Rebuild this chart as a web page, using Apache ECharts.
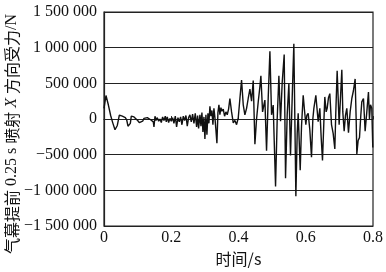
<!DOCTYPE html>
<html><head><meta charset="utf-8">
<script src="https://cdn.jsdelivr.net/npm/echarts@6/dist/echarts.min.js"></script>
<style>html,body{margin:0;padding:0;background:#fff}#c{width:386px;height:272px}</style>
</head><body><div id="c"></div>
<script>
var times = [0,0.0059,0.0129,0.0198,0.0258,0.0327,0.0357,0.0396,0.0456,0.0495,0.0545,0.0594,0.0634,0.0674,0.0713,0.0753,0.0783,0.0812,0.0852,0.0892,0.0951,0.1001,0.1050,0.1100,0.1149,0.1189,0.1238,0.1288,0.1337,0.1387,0.1436,0.1466,0.1486,0.1516,0.1545,0.1585,0.1625,0.1664,0.1704,0.1743,0.1783,0.1823,0.1852,0.1882,0.1922,0.1961,0.2001,0.2041,0.2080,0.2120,0.2159,0.2199,0.2239,0.2278,0.2318,0.2358,0.2397,0.2437,0.2476,0.2516,0.2556,0.2595,0.2635,0.2675,0.2714,0.2754,0.2784,0.2813,0.2853,0.2883,0.2912,0.2942,0.2972,0.3001,0.3031,0.3061,0.3091,0.3120,0.3150,0.3180,0.3210,0.3239,0.3269,0.3299,0.3328,0.3358,0.3388,0.3418,0.3447,0.3477,0.3507,0.3546,0.3586,0.3626,0.3665,0.3705,
0.3744,0.3794,0.3844,0.3893,0.3943,0.3992,0.4042,0.4091,0.4141,0.4190,0.4240,0.4289,0.4339,0.4389,0.4438,0.4488,0.4537,0.4587,0.4636,0.4666,0.4716,0.4755,0.4785,0.4834,0.4884,0.4934,0.4983,0.5032,0.5062,0.5102,0.5151,0.5201,0.5250,0.5300,0.5359,0.5399,0.5448,0.5498,0.5547,0.5597,0.5646,0.5676,0.5706,0.5746,0.5775,0.5805,0.5835,0.5874,0.5924,0.5963,0.6003,0.6032,0.6072,0.6121,0.6171,0.6211,0.6241,0.6300,0.6340,0.6369,0.6419,0.6458,0.6498,0.6538,0.6567,0.6607,0.6637,0.6676,0.6716,0.6766,0.6815,0.6865,0.6894,0.6934,0.6964,0.6993,0.7033,0.7073,0.7102,0.7142,0.7182,0.7221,0.7271,0.7320,0.7370,0.7419,0.7469,0.7499,0.7519,0.7558,0.7598,0.7637,0.7667,0.7717,0.7766,0.7816,0.7865,0.7895,0.7925,0.7964,0.7994];
var forces = [150000,330000,200000,50000,-50000,-150000,-170000,-90000,55000,60000,40000,55000,20000,-10000,-100000,-120000,-60000,40000,20000,30000,10000,-20000,-50000,-55000,-30000,10000,-5000,20000,5000,-10000,10000,-40000,-110000,40000,-20000,20000,-30000,0,-50000,30000,-20000,40000,-40000,30000,-50000,10000,-30000,20000,-60000,40000,-110000,20000,-40000,30000,-80000,40000,-20000,50000,-100000,20000,60000,-40000,70000,-60000,80000,-110000,50000,-130000,60000,-100000,90000,-180000,30000,-280000,60000,-220000,80000,-60000,180000,40000,120000,-80000,150000,20000,-150000,-340000,90000,200000,60000,160000,110000,140000,40000,100000,60000,140000,
288000,100000,-55000,-20000,-78000,15000,288000,548000,200000,60000,150000,288000,420000,250000,539000,-352000,0,242000,450000,607000,100000,200000,265000,-443000,300000,950000,60000,195000,-300000,-945000,0,607000,-30000,515000,904000,-831000,60000,493000,-511000,300000,1055000,0,-1082000,-200000,80000,-300000,-717000,-100000,333000,120000,-78000,50000,80000,-150000,-534000,0,150000,333000,120000,-37000,150000,-250000,-580000,-50000,310000,100000,150000,300000,356000,-78000,-200000,-420000,100000,676000,300000,-78000,300000,690000,100000,-170000,50000,150000,-190000,100000,288000,400000,562000,0,-489000,-300000,-260000,50000,240000,288000,-170000,100000,379000,0,200000,150000,-400000];
var yTicks = [-1500000,-1000000,-500000,0,500000,1000000,1500000];
var xTicks = [0,0.2,0.4,0.6,0.8];

var data = times.map(function(t,i){return [t, forces[i]];});
function fmt(v){
  var s = Math.abs(v).toString().replace(/\B(?=(\d{3})+(?!\d))/g,' ');
  return (v<0?'\u2212':'') + s;
}
var chart = echarts.init(document.getElementById('c'), null, {renderer:'canvas'});
var serif = '"Liberation Serif", "Times New Roman", serif';
chart.setOption({
  animation:false,
  backgroundColor:'#fff',
  grid:{left:104,right:13,top:12,bottom:41,show:true,borderColor:'#222',borderWidth:1.2,backgroundColor:'transparent'},
  xAxis:{type:'value',min:0,max:0.8,interval:0.2,
    name:'时间/s',nameLocation:'middle',nameGap:23,
    nameTextStyle:{fontFamily:'"Noto Sans CJK SC", '+serif,fontSize:16,color:'#111'},
    axisLine:{show:true,lineStyle:{color:'#222',width:1.2}},
    axisTick:{show:true,inside:true,length:3,lineStyle:{color:'#222'}},
    axisLabel:{fontFamily:serif,fontSize:16,color:'#111',margin:4,formatter:function(v){return String(v);}},
    splitLine:{show:false}},
  yAxis:{type:'value',min:-1500000,max:1500000,interval:500000,
    axisLine:{show:true,lineStyle:{color:'#222',width:1.2}},
    axisTick:{show:false},
    axisLabel:{fontFamily:serif,fontSize:16,color:'#111',margin:7,formatter:fmt},
    splitLine:{show:true,lineStyle:{color:'#222',width:1.2}}},
  graphic:[{type:'text',x:12,y:134,rotation:Math.PI/2,
    style:{text:'{c|气幕提前} 0.25 s {c|喷射} {i|X} {c|方向受力}/N',
      font:'16px '+serif, fill:'#111', align:'center', verticalAlign:'middle',
      rich:{c:{fontFamily:'"Noto Sans CJK SC"',fontSize:16,fill:'#111'},
            i:{fontFamily:serif,fontStyle:'italic',fontSize:16,fill:'#111'}}}}],
  series:[{type:'line',data:data,symbol:'none',lineStyle:{color:'#111',width:1.4},z:3}]
});
</script></body></html>
